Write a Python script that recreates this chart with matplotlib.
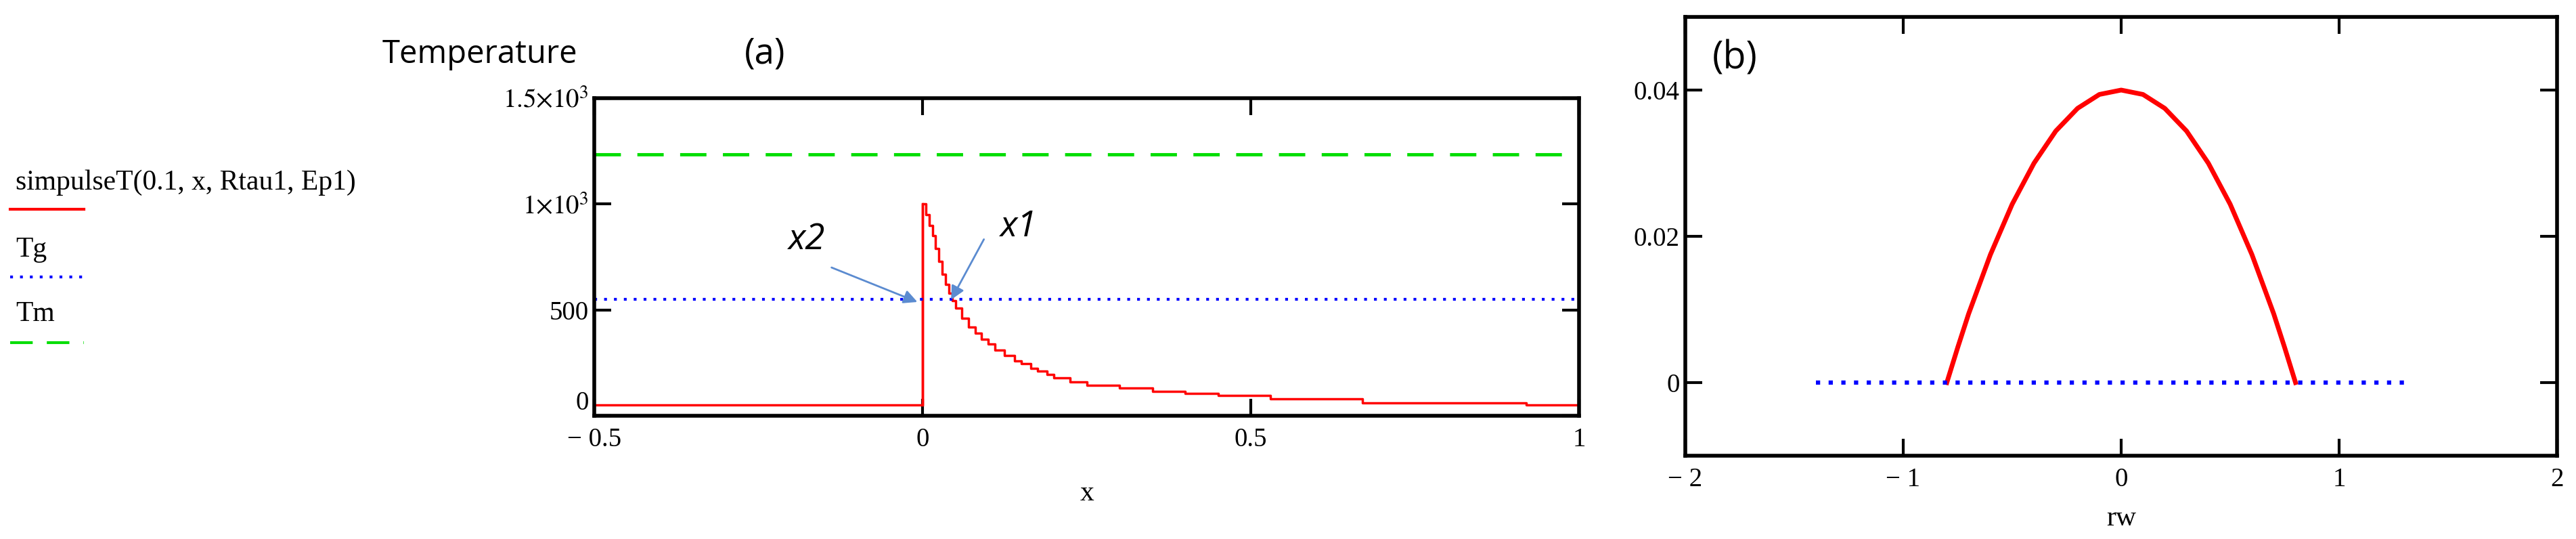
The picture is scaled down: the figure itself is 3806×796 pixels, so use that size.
import matplotlib
matplotlib.use("Agg")
import matplotlib.pyplot as plt

plt.rcParams["mathtext.fontset"] = "stix"
W, H = 3806, 796
# Panel (a) data
step_x = [-0.5, -0.002, 0.0, 0.005, 0.01, 0.015, 0.02, 0.025, 0.03, 0.035, 0.04, 0.045, 0.05, 0.06, 0.07, 0.08, 0.09, 0.1, 0.11, 0.125, 0.14, 0.15, 0.165, 0.175, 0.19, 0.2, 0.225, 0.25, 0.3, 0.35, 0.4, 0.45, 0.53, 0.67, 0.92, 1.0]
step_T = [50, 50, 1000, 950, 900, 850, 790, 730, 670, 620, 580, 545, 510, 460, 420, 390, 360, 340, 310, 285, 260, 245, 225, 210, 195, 180, 160, 145, 130, 115, 105, 95, 80, 62, 50, 50]
Tg = 550
Tm = 1235
# Panel (b) data
rw = [-0.8, -0.75, -0.7, -0.6, -0.5, -0.4, -0.3, -0.2, -0.1, 0.0, 0.1, 0.2, 0.3, 0.4, 0.5, 0.6, 0.7, 0.75, 0.8]
zw = [0.0, 0.0048, 0.0094, 0.0175, 0.0244, 0.03, 0.0344, 0.0375, 0.0394, 0.04, 0.0394, 0.0375, 0.0344, 0.03, 0.0244, 0.0175, 0.0094, 0.0048, 0.0]
base_x = [-1.4, 1.33]
base_y = [0, 0]

serif = "Liberation Serif"
fig = plt.figure(figsize=(W/100, H/100), dpi=100)

def fx(px): return px / W
def fy(py): return 1 - py / H

ax = fig.add_axes([878/W, 1-614/H, 1455/W, 469/H])
ax.step(step_x, step_T, where="post", color="red", lw=2.5)
ax.plot([0, 0], [50, 1000], color="red", lw=2.5)
ax.axhline(Tg, color="blue", lw=3, ls=(0, (1, 2.5)))
ax.axhline(Tm, color="#00dd00", lw=3.5, ls=(0, (8, 5)))
ax.set_xlim(-0.5, 1)
ax.set_ylim(0, 1500)
ax.set_xticks([-0.5, 0, 0.5, 1])
ax.set_xticklabels(["\u2212 0.5", "0", "0.5", "1"])
ax.set_yticks([0, 500, 1000, 1500])
ax.set_yticklabels(["0", "500", r"$1{\times}10^{3}$", r"$1.5{\times}10^{3}$"])
ax.set_xlabel("x", fontsize=30, family=serif, labelpad=30)

ax2 = fig.add_axes([2490/W, 1-673/H, 1288/W, 648/H])
ax2.plot(rw, zw, color="red", lw=5)
ax2.plot(base_x, base_y, color="blue", lw=4.5, ls=(0, (1, 2)))
ax2.set_xlim(-2, 2)
ax2.set_ylim(-0.01, 0.05)
ax2.set_xticks([-2, -1, 0, 1, 2])
ax2.set_xticklabels(["\u2212 2", "\u2212 1", "0", "1", "2"])
ax2.set_yticks([0, 0.02, 0.04])
ax2.set_yticklabels(["0", "0.02", "0.04"])
ax2.set_xlabel("rw", fontsize=30, family=serif, labelpad=14)

for a in (ax, ax2):
    for s in a.spines.values():
        s.set_linewidth(4)
    a.tick_params(direction="in", length=18, width=3, top=True, right=True, labelsize=28)
    a.tick_params(axis="x", pad=12)
    a.tick_params(axis="y", pad=6)
    for lab in a.get_xticklabels() + a.get_yticklabels():
        lab.set_family(serif)
ax.get_yticklabels()[0].set_verticalalignment("bottom")

fig.text(fx(565), fy(80), "Temperature", fontsize=34, family="Open Sans", va="center")
fig.text(fx(1100), fy(80), "(a)", fontsize=38, family="Open Sans", va="center")
fig.text(fx(2530), fy(87), "(b)", fontsize=40, family="Open Sans", va="center")

fig.text(fx(23), fy(270), "simpulseT(0.1, x, Rtau1, Ep1)", fontsize=30, family=serif, va="center")
fig.add_artist(plt.Line2D([fx(15), fx(124)], [fy(309), fy(309)], color="red", lw=3))
fig.text(fx(23), fy(369), "Tg", fontsize=30, family=serif, va="center")
fig.add_artist(plt.Line2D([fx(15), fx(124)], [fy(409), fy(409)], color="blue", lw=3, ls=(0, (1, 2.5))))
fig.text(fx(23), fy(464), "Tm", fontsize=30, family=serif, va="center")
fig.add_artist(plt.Line2D([fx(15), fx(124)], [fy(506), fy(506)], color="#00dd00", lw=3, ls=(0, (8, 5))))

fig.text(fx(1192), fy(354), "x2", fontsize=38, family="Open Sans", style="italic", va="center", ha="center")
fig.text(fx(1505), fy(335), "x1", fontsize=38, family="Open Sans", style="italic", va="center", ha="center")
arr = dict(arrowstyle="-|>", color="#5b8bd0", lw=2, mutation_scale=30)
fig.add_artist(matplotlib.patches.FancyArrowPatch((fx(1226), fy(394)), (fx(1358), fy(447)), transform=fig.transFigure, **arr))
fig.add_artist(matplotlib.patches.FancyArrowPatch((fx(1455), fy(351)), (fx(1404), fy(445)), transform=fig.transFigure, **arr))

fig.savefig("out.png", dpi=100)
